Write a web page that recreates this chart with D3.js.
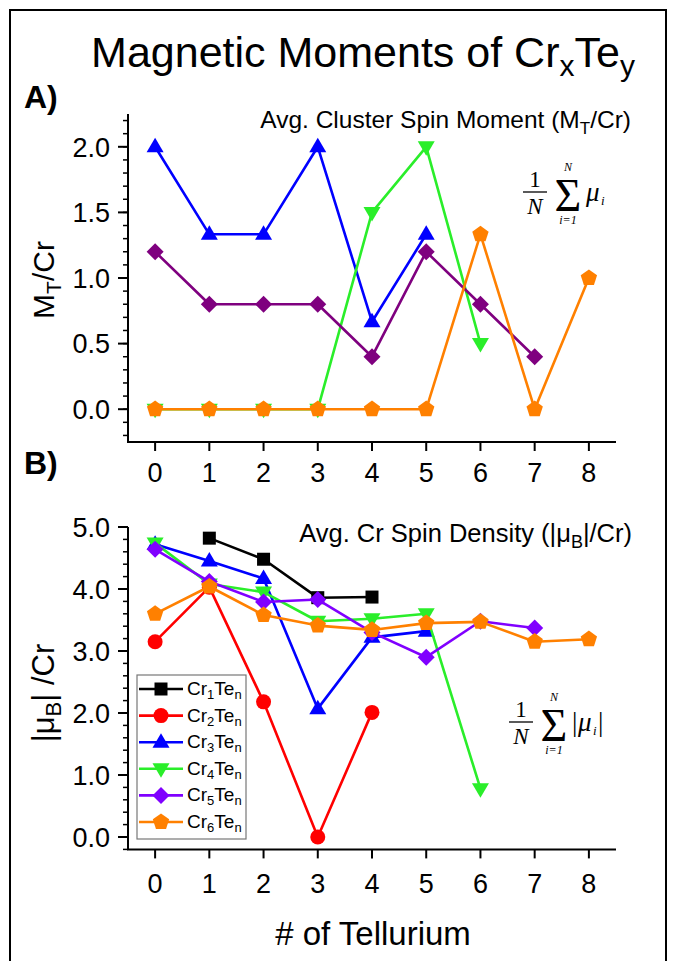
<!DOCTYPE html>
<html><head><meta charset="utf-8">
<script src="https://cdn.jsdelivr.net/npm/d3@7"></script>
<style>
body{margin:0;background:#fff;}
svg{display:block;font-family:"Liberation Sans",Arial,sans-serif;}
</style></head>
<body><svg id="c" width="673" height="961"></svg>
<script>
// ---------- data ----------
const tellurium = [0,1,2,3,4,5,6,7,8];
const xTickLabels = ["0","1","2","3","4","5","6","7","8"];
const yTicksA = [0.0,0.5,1.0,1.5,2.0];
const yTicksB = [0,1,2,3,4,5];
const seriesNames = ["Cr1Ten","Cr2Ten","Cr3Ten","Cr4Ten","Cr5Ten","Cr6Ten"];
// Panel A: average cluster spin moment (M_T/Cr), index = # of Te
const momentCr3 = [2.0, 1.333, 1.333, 2.0, 0.667, 1.333];
const momentCr4 = [0, 0, 0, 0, 1.5, 2.0, 0.5];
const momentCr5 = [1.2, 0.8, 0.8, 0.8, 0.4, 1.2, 0.8, 0.4];
const momentCr6 = [0, 0, 0, 0, 0, 0, 1.333, 0, 1.0];
// Panel B: average Cr spin density (|mu_B|/Cr)
const densCr1 = [null, 4.82, 4.48, 3.86, 3.87];
const densCr2 = [3.15, 4.03, 2.18, 0.0, 2.01];
const densCr3 = [4.72, 4.45, 4.17, 2.07, 3.22, 3.32];
const densCr4 = [4.74, 4.08, 3.95, 3.48, 3.52, 3.60, 0.78];
const densCr5 = [4.64, 4.12, 3.79, 3.83, 3.30, 2.90, 3.48, 3.37];
const densCr6 = [3.60, 4.04, 3.58, 3.41, 3.34, 3.45, 3.47, 3.15, 3.19];

// ---------- styles ----------
const colors = {Cr1:"#000000",Cr2:"#ff0000",Cr3:"#0000ff",Cr4:"#2aee2a",Cr5A:"#7f007f",Cr5B:"#8000ff",Cr6:"#ff8000"};

const svg = d3.select("#c");
const FONT = "'Liberation Sans',Arial,sans-serif";

// custom marker symbols
function poly(pts){return {draw(ctx){ctx.moveTo(pts[0][0],pts[0][1]);for(let i=1;i<pts.length;i++)ctx.lineTo(pts[i][0],pts[i][1]);ctx.closePath();}};}
const symSquare = poly([[-6.5,-6.5],[6.5,-6.5],[6.5,6.5],[-6.5,6.5]]);
const symCircle = {draw(ctx){ctx.moveTo(7.5,0);ctx.arc(0,0,7.5,0,2*Math.PI);}};
const symTriUp = poly([[0,-9],[8.5,5.5],[-8.5,5.5]]);
const symTriDown = poly([[0,9],[8.5,-5.5],[-8.5,-5.5]]);
const symDiamond = poly([[0,-8.5],[8.5,0],[0,8.5],[-8.5,0]]);
const symPent = poly(d3.range(5).map(i=>{const a=-Math.PI/2+i*2*Math.PI/5;return [8.6*Math.cos(a),8.6*Math.sin(a)];}));

// frame
svg.append("rect").attr("x",10).attr("y",10).attr("width",656).attr("height",962)
  .attr("fill","none").attr("stroke","#000").attr("stroke-width",2);

// title
const title = svg.append("text").attr("x",363).attr("y",67).attr("text-anchor","middle")
  .attr("font-size",43).attr("font-family",FONT);
title.append("tspan").text("Magnetic Moments of Cr");
title.append("tspan").text("x").attr("font-size",30).attr("dy",9);
title.append("tspan").text("Te").attr("dy",-9);
title.append("tspan").text("y").attr("font-size",30).attr("dy",9);

// scales
const x = d3.scaleLinear().domain([-0.5,8.5]).range([128,616]);
const yA = d3.scaleLinear().domain([-0.25,2.25]).range([442,114]);
const yB = d3.scaleLinear().domain([-0.2,5.0]).range([849.4,527]);

function drawAxes(y, majors, minorStep, xAxisY){
  const g = svg.append("g");
  const [d0,d1] = y.domain();
  g.append("line").attr("x1",x.range()[0]).attr("x2",x.range()[0])
    .attr("y1",y(d0)).attr("y2",y(d1)).attr("stroke","#000").attr("stroke-width",2);
  g.append("line").attr("x1",x.range()[0]-1).attr("x2",x.range()[1])
    .attr("y1",y(d0)).attr("y2",y(d0)).attr("stroke","#000").attr("stroke-width",2);
  const minors = d3.range(Math.ceil(d0/minorStep-1e-6), Math.floor(d1/minorStep+1e-6)+1).map(k=>+(k*minorStep).toFixed(3));
  g.selectAll(".ymin").data(minors).join("line")
    .attr("x1",x.range()[0]-5).attr("x2",x.range()[0])
    .attr("y1",d=>y(d)).attr("y2",d=>y(d)).attr("stroke","#000").attr("stroke-width",1.5);
  g.selectAll(".ymaj").data(majors).join("line")
    .attr("x1",x.range()[0]-10).attr("x2",x.range()[0])
    .attr("y1",d=>y(d)).attr("y2",d=>y(d)).attr("stroke","#000").attr("stroke-width",2);
  g.selectAll(".ylab").data(majors).join("text")
    .attr("x",x.range()[0]-18).attr("y",d=>y(d)).attr("dy","0.36em")
    .attr("text-anchor","end").attr("font-size",27).attr("font-family",FONT)
    .text(d=>d3.format(".1f")(d));
  g.selectAll(".xt").data(tellurium).join("line")
    .attr("x1",d=>x(d)).attr("x2",d=>x(d)).attr("y1",y(d0)).attr("y2",y(d0)+9)
    .attr("stroke","#000").attr("stroke-width",2);
  g.selectAll(".xl").data(tellurium).join("text")
    .attr("x",d=>x(d)).attr("y",xAxisY).attr("text-anchor","middle")
    .attr("font-size",27).attr("font-family",FONT).text((d,i)=>xTickLabels[i]);
}
drawAxes(yA, yTicksA, 0.1, 482);
drawAxes(yB, yTicksB, 0.2, 893);

function drawSeries(y, vals, color, sym){
  const pts = vals.map((v,i)=>({x:tellurium[i],v})).filter(d=>d.v!==null);
  const g = svg.append("g");
  g.append("path").datum(pts)
    .attr("d", d3.line().x(d=>x(d.x)).y(d=>y(d.v)))
    .attr("fill","none").attr("stroke",color).attr("stroke-width",2.6).attr("stroke-linejoin","round");
  g.selectAll("path.m").data(pts).join("path").attr("class","m")
    .attr("d", d3.symbol().type(sym))
    .attr("transform",d=>`translate(${x(d.x)},${y(d.v)})`)
    .attr("fill",color);
}
// Panel A
drawSeries(yA, momentCr3, colors.Cr3, symTriUp);
drawSeries(yA, momentCr4, colors.Cr4, symTriDown);
drawSeries(yA, momentCr5, colors.Cr5A, symDiamond);
drawSeries(yA, momentCr6, colors.Cr6, symPent);
// Panel B
drawSeries(yB, densCr1, colors.Cr1, symSquare);
drawSeries(yB, densCr2, colors.Cr2, symCircle);
drawSeries(yB, densCr3, colors.Cr3, symTriUp);
drawSeries(yB, densCr4, colors.Cr4, symTriDown);
drawSeries(yB, densCr5, colors.Cr5B, symDiamond);
drawSeries(yB, densCr6, colors.Cr6, symPent);

// panel labels
svg.append("text").attr("x",24).attr("y",108).attr("font-size",32).attr("font-weight","bold").attr("font-family",FONT).text("A)");
svg.append("text").attr("x",24).attr("y",474).attr("font-size",32).attr("font-weight","bold").attr("font-family",FONT).text("B)");

// panel titles
const tA = svg.append("text").attr("x",631).attr("y",128).attr("text-anchor","end").attr("font-size",24.5).attr("font-family",FONT);
tA.append("tspan").text("Avg. Cluster Spin Moment (M");
tA.append("tspan").text("T").attr("font-size",17).attr("dy",6);
tA.append("tspan").text("/Cr)").attr("dy",-6);
const tB = svg.append("text").attr("x",632).attr("y",542).attr("text-anchor","end").attr("font-size",25.5).attr("font-family",FONT);
tB.append("tspan").text("Avg. Cr Spin Density (|μ");
tB.append("tspan").text("B").attr("font-size",18).attr("dy",6);
tB.append("tspan").text("|/Cr)").attr("dy",-6);

// y axis titles
const yla = svg.append("text").attr("transform","translate(54,280) rotate(-90)").attr("text-anchor","middle").attr("font-size",30).attr("font-family",FONT);
yla.append("tspan").text("M");
yla.append("tspan").text("T").attr("font-size",21).attr("dy",7);
yla.append("tspan").text("/Cr").attr("dy",-7);
const ylb = svg.append("text").attr("transform","translate(54,693) rotate(-90)").attr("text-anchor","middle").attr("font-size",31).attr("font-family",FONT);
ylb.append("tspan").text("|μ");
ylb.append("tspan").text("B").attr("font-size",22).attr("dy",7);
ylb.append("tspan").text("| /Cr").attr("dy",-7);

// x axis title
svg.append("text").attr("x",373).attr("y",945).attr("text-anchor","middle").attr("font-size",33).attr("font-family",FONT).text("# of Tellurium");

// formulas (one text element each, glyphs placed with tspans)
function formula(g, cx, cy, abs){
  const SER = "'Liberation Serif','Times New Roman',serif";
  g.append("line").attr("x1",cx-12).attr("x2",cx+12).attr("y1",cy).attr("y2",cy).attr("stroke","#000").attr("stroke-width",1.3);
  const sx = cx+33;
  const t = g.append("text").attr("font-family",SER).attr("font-size",23);
  t.append("tspan").attr("x",cx).attr("y",cy-5).attr("text-anchor","middle").text("1");
  t.append("tspan").attr("x",cx).attr("y",cy+22).attr("text-anchor","middle").attr("font-style","italic").text("N");
  t.append("tspan").attr("x",sx).attr("y",cy-21).attr("text-anchor","middle").attr("font-size",12).attr("font-style","italic").text("N");
  t.append("tspan").attr("x",sx).attr("y",cy+19).attr("text-anchor","middle").attr("font-size",46).text("Σ");
  t.append("tspan").attr("x",sx).attr("y",cy+32).attr("text-anchor","middle").attr("font-size",12).attr("font-style","italic").text("i=1");
  let px = sx+18;
  if(abs){ t.append("tspan").attr("x",px).attr("y",cy+9).attr("font-size",27).text("|"); px += 6; }
  t.append("tspan").attr("x",px).attr("y",cy+9).attr("font-size",27).attr("font-style","italic").text("μ");
  t.append("tspan").attr("x",px+15).attr("y",cy+13).attr("font-size",13).attr("font-style","italic").text("i");
  if(abs) t.append("tspan").attr("x",px+20).attr("y",cy+9).attr("font-size",27).text("|");
}
formula(svg.append("g"), 535, 192, false);
formula(svg.append("g"), 521, 722, true);

// legend
const legend = svg.append("g");
legend.append("rect").attr("x",137).attr("y",675).attr("width",109).attr("height",164)
  .attr("fill","#fff").attr("stroke","#777").attr("stroke-width",1.2);
const legItems = [
  {n:"1",c:colors.Cr1,s:symSquare},{n:"2",c:colors.Cr2,s:symCircle},{n:"3",c:colors.Cr3,s:symTriUp},
  {n:"4",c:colors.Cr4,s:symTriDown},{n:"5",c:colors.Cr5B,s:symDiamond},{n:"6",c:colors.Cr6,s:symPent}];
legItems.forEach((it,i)=>{
  const yy = 689 + i*26.6;
  legend.append("line").attr("x1",139).attr("x2",183).attr("y1",yy).attr("y2",yy).attr("stroke",it.c).attr("stroke-width",2.6);
  legend.append("path").attr("d",d3.symbol().type(it.s)()).attr("transform",`translate(161,${yy})`).attr("fill",it.c);
  const t = legend.append("text").attr("x",187).attr("y",yy+6).attr("font-size",19).attr("font-family",FONT);
  t.append("tspan").text("Cr");
  t.append("tspan").text(it.n).attr("font-size",13).attr("dy",4);
  t.append("tspan").text("Te").attr("dy",-4);
  t.append("tspan").text("n").attr("font-size",13).attr("dy",4);
});
</script></body></html>
